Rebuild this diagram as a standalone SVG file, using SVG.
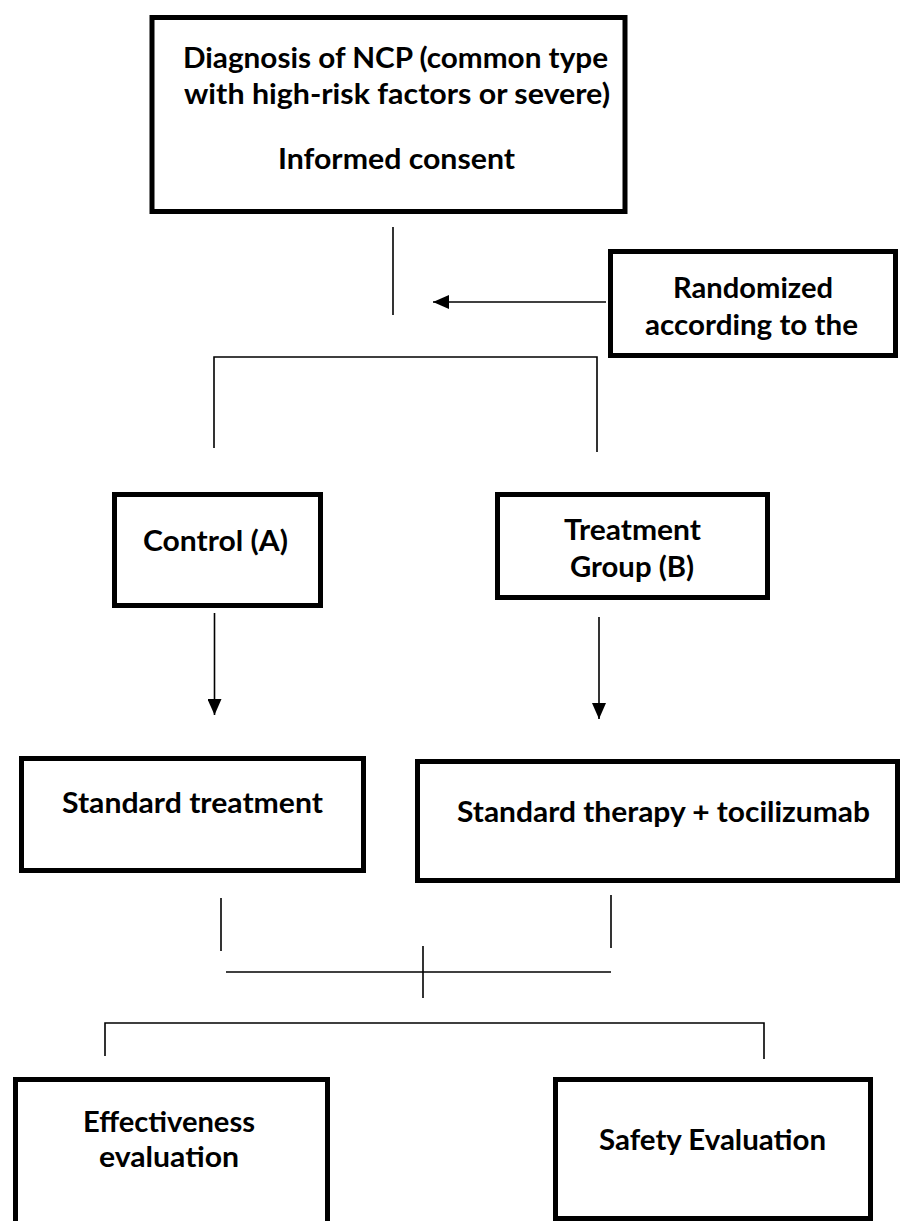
<svg xmlns="http://www.w3.org/2000/svg" width="902" height="1221" viewBox="0 0 902 1221">
<style>
.box{fill:#fff;stroke:#000;stroke-width:5}
.t{font-family:Lato,"Open Sans","Liberation Sans",sans-serif;font-weight:bold;font-size:28px;fill:#000}
.ln{stroke:#000;stroke-width:1.6;fill:none}
</style>
<defs>
<marker id="ah" markerUnits="userSpaceOnUse" markerWidth="16" markerHeight="14" refX="16" refY="7" orient="auto">
<path d="M0,0 L16,7 L0,14 z" fill="#000"/>
</marker>
</defs>
<rect width="902" height="1221" fill="#fff"/>
<g id="connectors">
<line class="ln" x1="393" y1="227" x2="393" y2="315"/>
<line class="ln" x1="606" y1="302" x2="433" y2="302" marker-end="url(#ah)"/>
<polyline class="ln" points="214,448 214,357 597,357 597,452"/>
<line class="ln" x1="214.5" y1="613" x2="214.5" y2="715" marker-end="url(#ah)"/>
<line class="ln" x1="599" y1="617" x2="599" y2="719" marker-end="url(#ah)"/>
<line class="ln" x1="221" y1="898" x2="221" y2="951"/>
<line class="ln" x1="611" y1="895" x2="611" y2="948"/>
<line class="ln" x1="226" y1="972" x2="611" y2="972"/>
<line class="ln" x1="423" y1="946" x2="423" y2="998"/>
<polyline class="ln" points="105,1056 105,1023 764,1023 764,1059"/>
</g>
<g id="n_diagnosis">
<rect class="box" x="152" y="17.5" width="473" height="194"/>
<text class="t" x="183" y="68" textLength="425" lengthAdjust="spacingAndGlyphs">Diagnosis of NCP (common type</text>
<text class="t" x="184" y="104" textLength="426" lengthAdjust="spacingAndGlyphs">with high-risk factors or severe)</text>
<text class="t" x="278" y="169" textLength="237" lengthAdjust="spacingAndGlyphs">Informed consent</text>
</g>
<g id="n_random">
<rect class="box" x="610.5" y="251.5" width="285" height="104"/>
<text class="t" x="673" y="298" textLength="160" lengthAdjust="spacingAndGlyphs">Randomized</text>
<text class="t" x="645" y="335" textLength="213" lengthAdjust="spacingAndGlyphs">according to the</text>
</g>
<g id="n_control">
<rect class="box" x="114.5" y="494.5" width="206" height="111"/>
<text class="t" x="143" y="551" textLength="145" lengthAdjust="spacingAndGlyphs">Control (A)</text>
</g>
<g id="n_treatment">
<rect class="box" x="497.5" y="494.5" width="270" height="103"/>
<text class="t" x="564" y="540" textLength="137" lengthAdjust="spacingAndGlyphs">Treatment</text>
<text class="t" x="570" y="577" textLength="124" lengthAdjust="spacingAndGlyphs">Group (B)</text>
</g>
<g id="n_standard">
<rect class="box" x="21.5" y="758.5" width="342" height="112"/>
<text class="t" x="62" y="813" textLength="261" lengthAdjust="spacingAndGlyphs">Standard treatment</text>
</g>
<g id="n_tocilizumab">
<rect class="box" x="417.5" y="761.5" width="480" height="119"/>
<text class="t" x="457" y="822" textLength="413" lengthAdjust="spacingAndGlyphs">Standard therapy + tocilizumab</text>
</g>
<g id="n_effectiveness">
<rect class="box" x="15.5" y="1079.5" width="312" height="170"/>
<text class="t" x="83" y="1132" textLength="172" lengthAdjust="spacingAndGlyphs">Effectiveness</text>
<text class="t" x="99" y="1167" textLength="140" lengthAdjust="spacingAndGlyphs">evaluation</text>
</g>
<g id="n_safety">
<rect class="box" x="555.5" y="1079.5" width="315" height="139"/>
<text class="t" x="599" y="1150" textLength="227" lengthAdjust="spacingAndGlyphs">Safety Evaluation</text>
</g>
</svg>
